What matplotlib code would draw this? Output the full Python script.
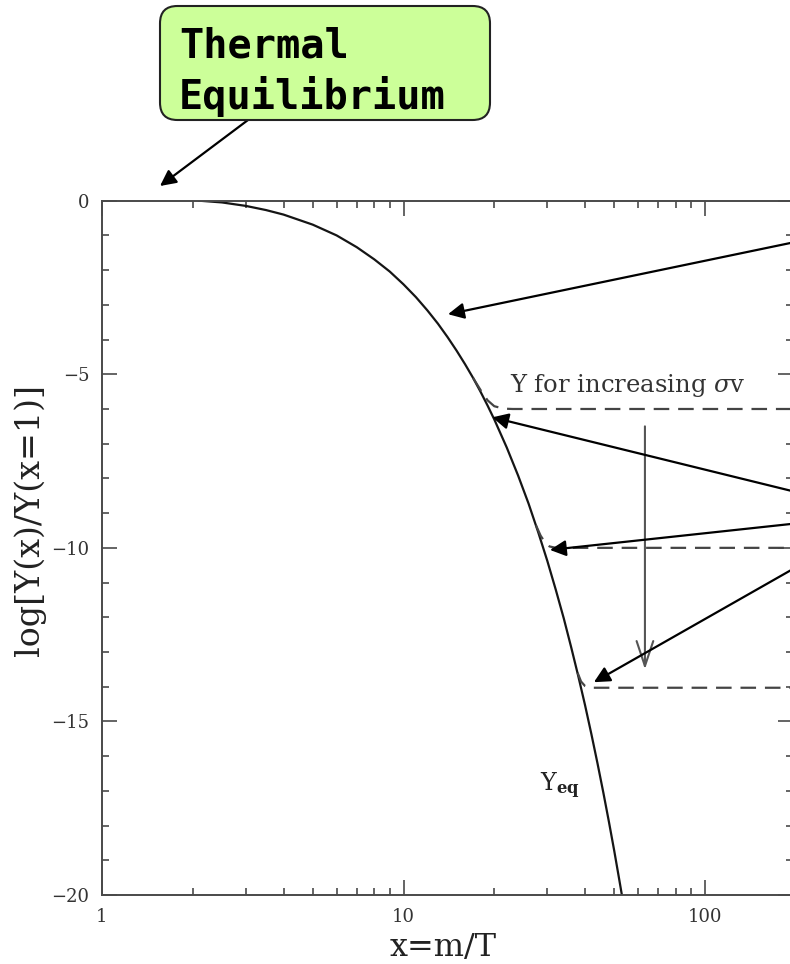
import matplotlib
matplotlib.use("Agg")
import matplotlib.pyplot as plt
from matplotlib.patches import FancyBboxPatch, FancyArrowPatch

# 平衡丰度曲线 Y_eq（读图取点）
yeq_x = [2.1, 2.5, 3, 3.5, 4, 5, 6, 7, 8, 9, 10, 11, 12, 13, 14, 15, 16, 17,
         18, 19, 20, 22, 24, 26, 28, 30, 32, 34, 36, 38, 40, 42, 44, 46, 48,
         50, 52, 53]
yeq_y = [0.0, -0.05, -0.15, -0.27, -0.40, -0.69, -1.00, -1.34, -1.69, -2.04,
         -2.41, -2.78, -3.16, -3.54, -3.93, -4.32, -4.71, -5.10, -5.50, -5.90,
         -6.30, -7.11, -7.92, -8.73, -9.56, -10.38, -11.21, -12.03, -12.87,
         -13.70, -14.53, -15.37, -16.21, -17.05, -17.89, -18.73, -19.58, -20.0]

# 三条冻结曲线（σv 依次增大）
fo1_x = [17.0, 18.0, 19.0, 20.0, 21.5, 23.0, 250.0]
fo1_y = [-5.10, -5.45, -5.75, -5.92, -5.99, -6.0, -6.0]
fo2_x = [27.5, 28.5, 29.5, 30.5, 32.0, 250.0]
fo2_y = [-9.35, -9.65, -9.85, -9.96, -10.0, -10.0]
fo3_x = [37.8, 38.8, 40.0, 41.5, 250.0]
fo3_y = [-13.6, -13.85, -13.98, -14.03, -14.03]

y_ticks = [0, -5, -10, -15, -20]
x_ticks = [1, 10, 100]
x_ticklabels = ["1", "10", "100"]

W, H = 790, 964


def fp(px, py):
    """像素坐标 -> figure fraction"""
    return px / W, 1 - py / H


plt.rcParams["mathtext.fontset"] = "dejavuserif"
fig = plt.figure(figsize=(W / 100, H / 100), dpi=100)
ax = fig.add_axes([102 / W, 1 - 895 / H, 691 / W, 694.3 / H])

axis_grey = "#4a4a4a"
ax.plot(yeq_x, yeq_y, color="#151515", lw=1.6)
for fx, fy in [(fo1_x, fo1_y), (fo2_x, fo2_y), (fo3_x, fo3_y)]:
    ax.plot(fx, fy, color="#444444", lw=1.6, dashes=(7, 4))

ax.set_xscale("log")
ax.set_xlim(1, 195.8)
ax.set_ylim(-20, 0)
ax.set_xticks(x_ticks)
ax.set_xticklabels(x_ticklabels)
ax.set_yticks(y_ticks)
ax.set_yticks(range(-19, 0), minor=True)
ax.xaxis.set_minor_formatter(plt.NullFormatter())

for s in ax.spines.values():
    s.set_color(axis_grey)
    s.set_linewidth(1.4)
ax.tick_params(which="both", direction="in", top=True, right=True,
               color=axis_grey, width=1.2)
ax.tick_params(which="major", length=10.5, pad=9)
ax.tick_params(which="minor", length=5)
for lab in ax.get_xticklabels() + ax.get_yticklabels():
    lab.set_fontfamily("DejaVu Serif")
    lab.set_fontsize(13)
    lab.set_color("#333333")

ax.set_xlabel("x=m/T", fontfamily="DejaVu Serif", fontsize=23, color="#222222")
ax.set_ylabel("log[Y(x)/Y(x=1)]", fontfamily="DejaVu Serif", fontsize=24,
              color="#222222")
ax.xaxis.set_label_coords(0.4935, -0.053)
ax.yaxis.set_label_coords(-0.081, 0.54)

ax.text(28.4, -17.0, r"Y$_{\mathbf{eq}}$", fontfamily="DejaVu Serif",
        fontsize=17, color="#222222")
ax.text(22.55, -5.51, "Y for increasing $\\sigma$v", fontfamily="DejaVu Serif",
        fontsize=17.5, color="#333333")

# σv 增大方向的竖直箭头
ax.annotate("", xy=(63.2, -13.5), xytext=(63.2, -6.5),
            arrowprops=dict(arrowstyle="->, head_length=0.9, head_width=0.3",
                            mutation_scale=20, color="#555555", lw=1.5,
                            shrinkA=0, shrinkB=0))

# 指向曲线的标注箭头
arrow_tips = [(14.05, -3.27), (19.7, -6.24), (30.6, -10.06), (42.8, -13.87)]
arrow_tails = [(800, 241), (800, 493), (800, 523), (800, 565)]
for tip, tail in zip(arrow_tips, arrow_tails):
    ax.annotate("", xy=tip, xycoords="data", xytext=fp(*tail),
                textcoords="figure fraction", annotation_clip=False,
                arrowprops=dict(arrowstyle="-|>", color="black", lw=1.6,
                                mutation_scale=24, shrinkA=0, shrinkB=0))

# Thermal Equilibrium 标签框
box = FancyBboxPatch(fp(160, 120), 330 / W, 114 / H,
                     boxstyle="round,pad=0,rounding_size=0.022",
                     transform=fig.transFigure, facecolor="#ccff99",
                     edgecolor="#222222", lw=1.5, mutation_aspect=W / H)
fig.patches.append(box)
fig.text(*fp(179, 57), "Thermal", fontfamily="DejaVu Sans Mono",
         fontweight="bold", fontsize=29, va="baseline")
fig.text(*fp(179, 109), "Equilibrium", fontfamily="DejaVu Sans Mono",
         fontweight="bold", fontsize=29, va="baseline")
fig.add_artist(FancyArrowPatch(
    fp(248, 120), fp(160, 186), transform=fig.transFigure,
    arrowstyle="-|>", mutation_scale=24, color="black", lw=1.6,
    shrinkA=0, shrinkB=0))

fig.savefig("out.png", dpi=100)
